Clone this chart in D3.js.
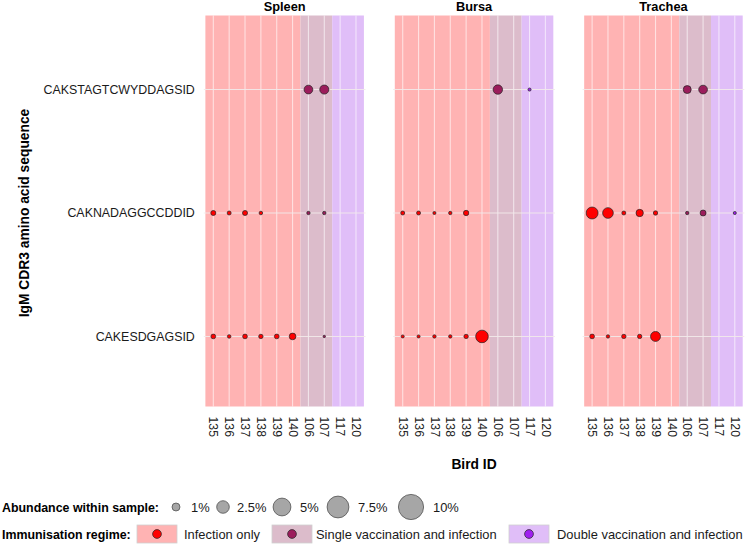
<!DOCTYPE html>
<html><head><meta charset="utf-8">
<script src="https://cdn.jsdelivr.net/npm/d3@7"></script>
<style>body{margin:0;background:#fff}svg{display:block;font-family:"Liberation Sans",Arial,sans-serif}</style>
</head><body><svg id="c" width="746" height="545"></svg>
<script>
const birds = ["135","136","137","138","139","140","106","107","117","120"];
const birdRegime = [0,0,0,0,0,0,1,1,2,2];
const regimes = ["Infection only","Single vaccination and infection","Double vaccination and infection"];
const regimeBg = ["#ffb3b3","#dcbccb","#e0bef8"];
const regimePoint = ["#ff0000","#9b1d5c","#a020f0"];
const tissues = ["Spleen","Bursa","Trachea"];
const sequences = ["CAKSTAGTCWYDDAGSID","CAKNADAGGCCDDID","CAKESDGAGSID"];
// abundance (%) per tissue, per sequence (rows), per bird (columns)
const spleenValues = [
  [null,null,null,null,null,null,1.2,1.3,null,null],
  [0.4,0.25,0.4,0.2,null,null,0.18,0.18,null,null],
  [0.35,0.2,0.35,0.3,0.35,0.7,null,0.09,null,null]
];
const bursaValues = [
  [null,null,null,null,null,null,1.4,null,0.15,null],
  [0.25,0.25,0.15,0.18,0.45,null,null,null,null,null],
  [0.15,0.15,0.18,0.18,0.3,2.5,null,null,null,null]
];
const tracheaValues = [
  [null,null,null,null,null,null,1.0,1.2,null,null],
  [2.25,1.8,0.25,0.85,0.3,null,0.18,0.56,null,0.15],
  [0.35,0.18,0.3,0.3,1.56,null,null,null,null,null]
];
const tissueValues = [spleenValues, bursaValues, tracheaValues];
const sizeBreaks = [1,2.5,5,7.5,10];
const sizeLabels = ["1%","2.5%","5%","7.5%","10%"];

const svg = d3.select("#c");
const panelW = 161.7, panelOffset = 189.4, panelLeft0 = 203.8;
const pTop = 15.5, pBottom = 410.5;
const size = d3.scaleSqrt().domain([0,10]).range([0,12.6]);
const y = d3.scalePoint().domain(sequences).range([pTop,pBottom]).padding(0.6);

tissues.forEach((t,ti)=>{
  const x0 = panelLeft0 + ti*panelOffset;
  const x = d3.scalePoint().domain(birds).range([x0, x0+panelW]).padding(0.6);
  const st = x.step();
  const g = svg.append("g");
  const groupsRange = regimes.map((r,ri)=>{
    const idx = birds.map((b,i)=>i).filter(i=>birdRegime[i]===ri);
    return {ri, x1: x(birds[idx[0]])-st/2, x2: x(birds[idx[idx.length-1]])+st/2};
  });
  g.selectAll("rect.bg").data(groupsRange).join("rect")
    .attr("x",d=>d.x1).attr("width",d=>d.x2-d.x1)
    .attr("y",pTop).attr("height",pBottom-pTop-4)
    .attr("fill",d=>regimeBg[d.ri]);
  g.selectAll("line.v").data(birds).join("line")
    .attr("x1",d=>x(d)).attr("x2",d=>x(d)).attr("y1",pTop).attr("y2",pBottom-4)
    .attr("stroke","#ffffff").attr("stroke-opacity",0.6).attr("stroke-width",1.1);
  g.selectAll("line.h").data(sequences).join("line")
    .attr("x1",x0).attr("x2",x0+panelW).attr("y1",d=>y(d)).attr("y2",d=>y(d))
    .attr("stroke","#f2eaea").attr("stroke-opacity",0.9).attr("stroke-width",1.1);
  g.append("text").attr("x",x0+panelW/2).attr("y",10.5).attr("text-anchor","middle")
    .attr("font-weight","bold").attr("font-size",12.8).text(t);
  const pts = [];
  tissueValues[ti].forEach((row,si)=>row.forEach((v,bi)=>{ if(v!=null) pts.push({s:sequences[si],b:birds[bi],v,ri:birdRegime[bi]}); }));
  g.selectAll("circle").data(pts).join("circle")
    .attr("cx",d=>x(d.b)).attr("cy",d=>y(d.s)).attr("r",d=>size(d.v))
    .attr("fill",d=>regimePoint[d.ri]).attr("stroke","#222").attr("stroke-width",0.7);
  const ax = svg.append("g").attr("transform",`translate(0,${pBottom+3})`)
    .call(d3.axisBottom(x).tickSize(0).tickPadding(0));
  ax.select(".domain").remove();
  ax.selectAll("text").attr("font-size",12.3).attr("fill","#1a1a1a")
    .attr("font-family","Liberation Sans, Arial, sans-serif")
    .attr("text-anchor","start").attr("dy","0.35em").attr("y",0)
    .attr("transform","rotate(90)").attr("x",3);
});

const ay = svg.append("g").attr("transform",`translate(${panelLeft0-6},0)`)
  .call(d3.axisLeft(y).tickSize(0).tickPadding(3));
ay.select(".domain").remove();
ay.selectAll("text").attr("font-size",12.4).attr("fill","#1a1a1a")
  .attr("font-family","Liberation Sans, Arial, sans-serif");

svg.append("text").attr("transform",`translate(29,${(pTop+pBottom)/2}) rotate(-90)`)
  .attr("text-anchor","middle").attr("font-weight","bold").attr("font-size",13.8)
  .text("IgM CDR3 amino acid sequence");
svg.append("text").attr("x",474).attr("y",469).attr("text-anchor","middle")
  .attr("font-weight","bold").attr("font-size",13.8).text("Bird ID");

const L1y = 507;
svg.append("text").attr("x",2).attr("y",L1y+4.5).attr("font-weight","bold").attr("font-size",12.4)
  .text("Abundance within sample:");
const sizeCx = [176,223,282,338,411];
const sizeTx = [191,237,300,358,433];
sizeBreaks.forEach((v,i)=>{
  svg.append("circle").attr("cx",sizeCx[i]).attr("cy",L1y).attr("r",size(v))
    .attr("fill","#a6a6a6").attr("stroke","#444").attr("stroke-width",0.7);
  svg.append("text").attr("x",sizeTx[i]).attr("y",L1y+4.5).attr("font-size",12.9).attr("fill","#1a1a1a").text(sizeLabels[i]);
});
const L2y = 534;
svg.append("text").attr("x",2).attr("y",L2y+4.5).attr("font-weight","bold").attr("font-size",12.4)
  .text("Immunisation regime:");
const keyX = [137,272,509];
const keyTx = [184,316,557];
regimes.forEach((r,i)=>{
  svg.append("rect").attr("x",keyX[i]).attr("y",L2y-9).attr("width",40).attr("height",18)
    .attr("fill",regimeBg[i]).attr("stroke","#d0d0d0").attr("stroke-width",0.8);
  svg.append("circle").attr("cx",keyX[i]+20).attr("cy",L2y).attr("r",4.4)
    .attr("fill",regimePoint[i]).attr("stroke","#222").attr("stroke-width",0.7);
  svg.append("text").attr("x",keyTx[i]).attr("y",L2y+4.5).attr("font-size",12.9).attr("fill","#1a1a1a").text(r);
});
</script></body></html>
